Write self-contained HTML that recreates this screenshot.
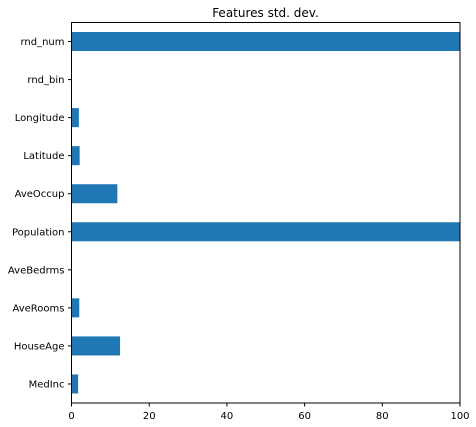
<!DOCTYPE html>
<html><head><meta charset="utf-8"><style>
body{margin:0;background:#fff;}
svg{display:block;font-family:"DejaVu Sans","Liberation Sans",sans-serif;}
</style></head><body>
<svg id="chart" width="476" height="427">
<text x="265.5" y="17" text-anchor="middle" font-size="12" fill="#000">Features std. dev.</text>
<g id="bars"></g><g id="yticks"></g><g id="xticks"></g>
<rect x="71.5" y="22.5" width="388.5" height="380.5" fill="none" stroke="#000" stroke-width="1"/>
</svg>
<script>
const categories=["MedInc","HouseAge","AveRooms","AveBedrms","Population","AveOccup","Latitude","Longitude","rnd_bin","rnd_num"];
const values=[1.7,12.5,2.0,0.05,1132,11.8,2.1,1.9,0.05,1000];
const xTicks=[0,20,40,60,80,100];
const L=71.5,R=460,T=22.5,B=403,xmax=100;
const NS="http://www.w3.org/2000/svg";
const x=v=>L+(Math.min(v,xmax)/xmax)*(R-L);
const step=(B-T)/categories.length;
const y=i=>T+(categories.length-1-i+0.5)*step;
const bars=document.getElementById('bars'),yt=document.getElementById('yticks'),xt=document.getElementById('xticks');
categories.forEach((c,i)=>{
  const r=document.createElementNS(NS,'rect');
  r.setAttribute('x',L);r.setAttribute('y',y(i)-step/4);
  r.setAttribute('width',x(values[i])-L);r.setAttribute('height',step/2);
  r.setAttribute('fill','#1f77b4');
  
  
  bars.appendChild(r);
  const tk=document.createElementNS(NS,'line');
  tk.setAttribute('x1',L-3.5);tk.setAttribute('x2',L);tk.setAttribute('y1',y(i));tk.setAttribute('y2',y(i));tk.setAttribute('stroke','#000');
  
  
  yt.appendChild(tk);
  const t=document.createElementNS(NS,'text');
  t.setAttribute('x',L-7);t.setAttribute('y',y(i)+3.5);t.setAttribute('text-anchor','end');t.setAttribute('font-size','10');
  t.textContent=c;
  
  
  yt.appendChild(t);
});
xTicks.forEach(v=>{
  const tk=document.createElementNS(NS,'line');
  tk.setAttribute('x1',x(v));tk.setAttribute('x2',x(v));tk.setAttribute('y1',B);tk.setAttribute('y2',B+3.5);tk.setAttribute('stroke','#000');
  
  
  xt.appendChild(tk);
  const t=document.createElementNS(NS,'text');
  t.setAttribute('x',x(v));t.setAttribute('y',B+16);t.setAttribute('text-anchor','middle');t.setAttribute('font-size','10');
  t.textContent=v;
  
  
  xt.appendChild(t);
});
</script>
</body></html>
